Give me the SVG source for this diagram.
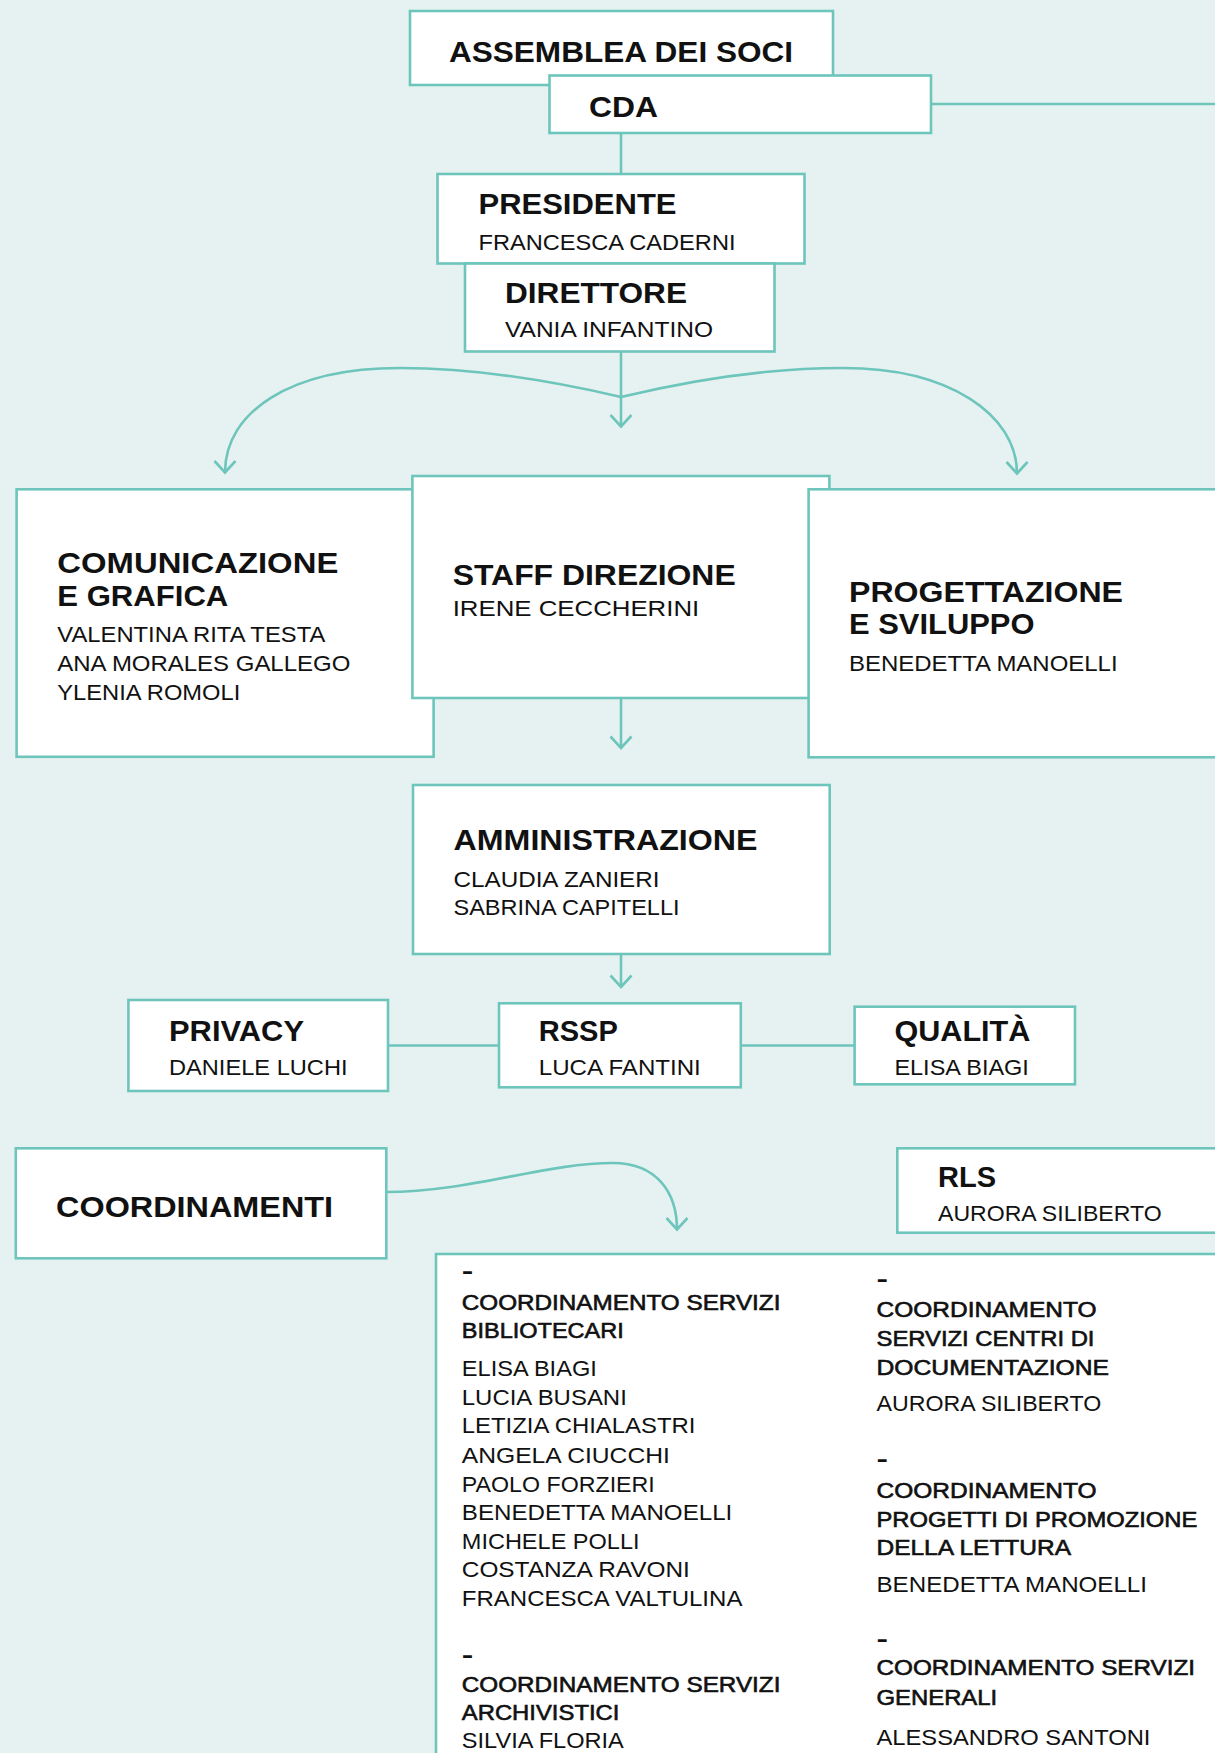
<svg xmlns="http://www.w3.org/2000/svg" width="1215" height="1753" viewBox="0 0 1215 1753">
<defs>
<style>
.bx{fill:#ffffff;stroke:#6dc5bc;stroke-width:2.6}
.ln{fill:none;stroke:#6dc5bc;stroke-width:2.6}
.h{font-family:"Liberation Sans",Arial,sans-serif;font-weight:bold;font-size:29.5px;fill:#111}
.n{font-family:"Liberation Sans",Arial,sans-serif;font-size:22.5px;fill:#111}
.sh{font-family:"Liberation Sans",Arial,sans-serif;font-size:21.5px;fill:#111;stroke:#111;stroke-width:0.6}
.nm{font-family:"Liberation Sans",Arial,sans-serif;font-size:22px;fill:#111}
.d{font-family:"Liberation Sans",Arial,sans-serif;font-weight:bold;font-size:22px;fill:#111}
</style>
<marker id="ah" markerUnits="userSpaceOnUse" markerWidth="30" markerHeight="30" viewBox="-15 -15 30 30" refX="0" refY="0" orient="auto">
<path d="M-11.5,-10.5 L0,0 L-11.5,10.5" fill="none" stroke="#6dc5bc" stroke-width="2.6"/>
</marker>
</defs>
<rect x="0" y="0" width="1215" height="1753" fill="#e6f2f1"/>

<g id="connectors">
<line class="ln" x1="931" y1="104" x2="1215" y2="104"/>
<line class="ln" x1="621" y1="133" x2="621" y2="174"/>
<path class="ln" d="M621,352 L621,426.5" marker-end="url(#ah)"/>
<path class="ln" d="M621,397 C540,378 470,368 400,368 C290,368 225,412 225,472.5" marker-end="url(#ah)"/>
<path class="ln" d="M621,397 C700,378 770,368 843,368 C950,368 1017,415 1017,473.5" marker-end="url(#ah)"/>
<path class="ln" d="M621,698 L621,748" marker-end="url(#ah)"/>
<path class="ln" d="M621,954 L621,987" marker-end="url(#ah)"/>
<line class="ln" x1="388" y1="1045.5" x2="499" y2="1045.5"/>
<line class="ln" x1="741" y1="1045.5" x2="855" y2="1045.5"/>
<path class="ln" d="M386,1192 C470,1192 545,1163 613,1163 C656,1163 677,1192 677,1229.5" marker-end="url(#ah)"/>
</g>

<g id="assemblea">
<rect class="bx" x="410" y="11" width="423" height="74"/>
<text class="h" x="449" y="62" textLength="344" lengthAdjust="spacingAndGlyphs">ASSEMBLEA DEI SOCI</text>
</g>
<g id="cda">
<rect class="bx" x="549.5" y="75.5" width="381.5" height="57.5"/>
<text class="h" x="589" y="117" textLength="69" lengthAdjust="spacingAndGlyphs">CDA</text>
</g>
<g id="presidente">
<rect class="bx" x="437.5" y="174" width="367" height="89.5"/>
<text class="h" x="478.5" y="214" textLength="198" lengthAdjust="spacingAndGlyphs">PRESIDENTE</text>
<text class="n" x="478.5" y="249.5" textLength="257" lengthAdjust="spacingAndGlyphs">FRANCESCA CADERNI</text>
</g>
<g id="direttore">
<rect class="bx" x="465" y="263.5" width="309.5" height="88"/>
<text class="h" x="505" y="303" textLength="182" lengthAdjust="spacingAndGlyphs">DIRETTORE</text>
<text class="n" x="505" y="337" textLength="208" lengthAdjust="spacingAndGlyphs">VANIA INFANTINO</text>
</g>

<g id="comunicazione">
<rect class="bx" x="16.6" y="489.3" width="417" height="267.5"/>
<text class="h" x="57.3" y="573.3" textLength="281" lengthAdjust="spacingAndGlyphs">COMUNICAZIONE</text>
<text class="h" x="57.3" y="605.7" textLength="171" lengthAdjust="spacingAndGlyphs">E GRAFICA</text>
<text class="n" x="57.3" y="641.7" textLength="268" lengthAdjust="spacingAndGlyphs">VALENTINA RITA TESTA</text>
<text class="n" x="57.3" y="670.7" textLength="293" lengthAdjust="spacingAndGlyphs">ANA MORALES GALLEGO</text>
<text class="n" x="57.3" y="700" textLength="183" lengthAdjust="spacingAndGlyphs">YLENIA ROMOLI</text>
</g>
<g id="staff">
<rect class="bx" x="412.4" y="476" width="417" height="222"/>
<text class="h" x="452.7" y="585" textLength="283" lengthAdjust="spacingAndGlyphs">STAFF DIREZIONE</text>
<text class="n" x="452.7" y="616" textLength="246.5" lengthAdjust="spacingAndGlyphs">IRENE CECCHERINI</text>
</g>
<g id="progettazione">
<rect class="bx" x="808.6" y="489.3" width="450" height="268"/>
<text class="h" x="849" y="602.3" textLength="274" lengthAdjust="spacingAndGlyphs">PROGETTAZIONE</text>
<text class="h" x="849" y="634.3" textLength="185.5" lengthAdjust="spacingAndGlyphs">E SVILUPPO</text>
<text class="n" x="849" y="670.7" textLength="268.6" lengthAdjust="spacingAndGlyphs">BENEDETTA MANOELLI</text>
</g>

<g id="amministrazione">
<rect class="bx" x="413" y="785" width="416.7" height="169"/>
<text class="h" x="453.5" y="850" textLength="304" lengthAdjust="spacingAndGlyphs">AMMINISTRAZIONE</text>
<text class="n" x="453.5" y="886.7" textLength="206" lengthAdjust="spacingAndGlyphs">CLAUDIA ZANIERI</text>
<text class="n" x="453.5" y="915" textLength="226" lengthAdjust="spacingAndGlyphs">SABRINA CAPITELLI</text>
</g>

<g id="privacy">
<rect class="bx" x="128.4" y="1000" width="259.6" height="91"/>
<text class="h" x="169" y="1040.7" textLength="135" lengthAdjust="spacingAndGlyphs">PRIVACY</text>
<text class="n" x="169" y="1075" textLength="178.5" lengthAdjust="spacingAndGlyphs">DANIELE LUCHI</text>
</g>
<g id="rssp">
<rect class="bx" x="499" y="1003.3" width="241.8" height="84"/>
<text class="h" x="538.8" y="1040.7" textLength="79" lengthAdjust="spacingAndGlyphs">RSSP</text>
<text class="n" x="538.8" y="1075" textLength="162" lengthAdjust="spacingAndGlyphs">LUCA FANTINI</text>
</g>
<g id="qualita">
<rect class="bx" x="854.6" y="1006.7" width="220.4" height="77.6"/>
<text class="h" x="894.4" y="1040.7" textLength="136" lengthAdjust="spacingAndGlyphs">QUALITÀ</text>
<text class="n" x="894.4" y="1075" textLength="134.5" lengthAdjust="spacingAndGlyphs">ELISA BIAGI</text>
</g>

<g id="coordinamenti">
<rect class="bx" x="15.8" y="1148.3" width="370.5" height="110"/>
<text class="h" x="56.1" y="1216.7" textLength="277" lengthAdjust="spacingAndGlyphs">COORDINAMENTI</text>
</g>
<g id="rls">
<rect class="bx" x="897.3" y="1148.3" width="400" height="84.4"/>
<text class="h" x="938" y="1187.3" textLength="58" lengthAdjust="spacingAndGlyphs">RLS</text>
<text class="n" x="938" y="1220.7" textLength="223.6" lengthAdjust="spacingAndGlyphs">AURORA SILIBERTO</text>
</g>

<g id="coordinamenti-elenco">
<rect class="bx" x="436" y="1254" width="900" height="600"/>
<text class="d" x="461.8" y="1278" textLength="11.5" lengthAdjust="spacingAndGlyphs">-</text>
<text class="sh" x="461.8" y="1310" textLength="318.6" lengthAdjust="spacingAndGlyphs">COORDINAMENTO SERVIZI</text>
<text class="sh" x="461.8" y="1338.3" textLength="162" lengthAdjust="spacingAndGlyphs">BIBLIOTECARI</text>
<text class="nm" x="461.8" y="1376" textLength="135" lengthAdjust="spacingAndGlyphs">ELISA BIAGI</text>
<text class="nm" x="461.8" y="1404.5" textLength="165" lengthAdjust="spacingAndGlyphs">LUCIA BUSANI</text>
<text class="nm" x="461.8" y="1433" textLength="233.6" lengthAdjust="spacingAndGlyphs">LETIZIA CHIALASTRI</text>
<text class="nm" x="461.8" y="1462.5" textLength="208" lengthAdjust="spacingAndGlyphs">ANGELA CIUCCHI</text>
<text class="nm" x="461.8" y="1491.5" textLength="193" lengthAdjust="spacingAndGlyphs">PAOLO FORZIERI</text>
<text class="nm" x="461.8" y="1520" textLength="270.5" lengthAdjust="spacingAndGlyphs">BENEDETTA MANOELLI</text>
<text class="nm" x="461.8" y="1548.5" textLength="177.7" lengthAdjust="spacingAndGlyphs">MICHELE POLLI</text>
<text class="nm" x="461.8" y="1577.3" textLength="228" lengthAdjust="spacingAndGlyphs">COSTANZA RAVONI</text>
<text class="nm" x="461.8" y="1605.7" textLength="280.6" lengthAdjust="spacingAndGlyphs">FRANCESCA VALTULINA</text>
<text class="d" x="461.8" y="1662" textLength="11.5" lengthAdjust="spacingAndGlyphs">-</text>
<text class="sh" x="461.8" y="1691.7" textLength="318.6" lengthAdjust="spacingAndGlyphs">COORDINAMENTO SERVIZI</text>
<text class="sh" x="461.8" y="1720" textLength="157.6" lengthAdjust="spacingAndGlyphs">ARCHIVISTICI</text>
<text class="nm" x="461.8" y="1748.3" textLength="162" lengthAdjust="spacingAndGlyphs">SILVIA FLORIA</text>

<text class="d" x="876.5" y="1285.7" textLength="11.5" lengthAdjust="spacingAndGlyphs">-</text>
<text class="sh" x="876.5" y="1316.7" textLength="220" lengthAdjust="spacingAndGlyphs">COORDINAMENTO</text>
<text class="sh" x="876.5" y="1346" textLength="218" lengthAdjust="spacingAndGlyphs">SERVIZI CENTRI DI</text>
<text class="sh" x="876.5" y="1375" textLength="232.5" lengthAdjust="spacingAndGlyphs">DOCUMENTAZIONE</text>
<text class="nm" x="876.5" y="1410.7" textLength="224.7" lengthAdjust="spacingAndGlyphs">AURORA SILIBERTO</text>
<text class="d" x="876.5" y="1466.4" textLength="11.5" lengthAdjust="spacingAndGlyphs">-</text>
<text class="sh" x="876.5" y="1498.3" textLength="220" lengthAdjust="spacingAndGlyphs">COORDINAMENTO</text>
<text class="sh" x="876.5" y="1527.3" textLength="320.8" lengthAdjust="spacingAndGlyphs">PROGETTI DI PROMOZIONE</text>
<text class="sh" x="876.5" y="1555" textLength="194.5" lengthAdjust="spacingAndGlyphs">DELLA LETTURA</text>
<text class="nm" x="876.5" y="1591.7" textLength="270.5" lengthAdjust="spacingAndGlyphs">BENEDETTA MANOELLI</text>
<text class="d" x="876.5" y="1645.7" textLength="11.5" lengthAdjust="spacingAndGlyphs">-</text>
<text class="sh" x="876.5" y="1675" textLength="318.6" lengthAdjust="spacingAndGlyphs">COORDINAMENTO SERVIZI</text>
<text class="sh" x="876.5" y="1705" textLength="120.7" lengthAdjust="spacingAndGlyphs">GENERALI</text>
<text class="nm" x="876.5" y="1745" textLength="273.9" lengthAdjust="spacingAndGlyphs">ALESSANDRO SANTONI</text>
</g>
</svg>
